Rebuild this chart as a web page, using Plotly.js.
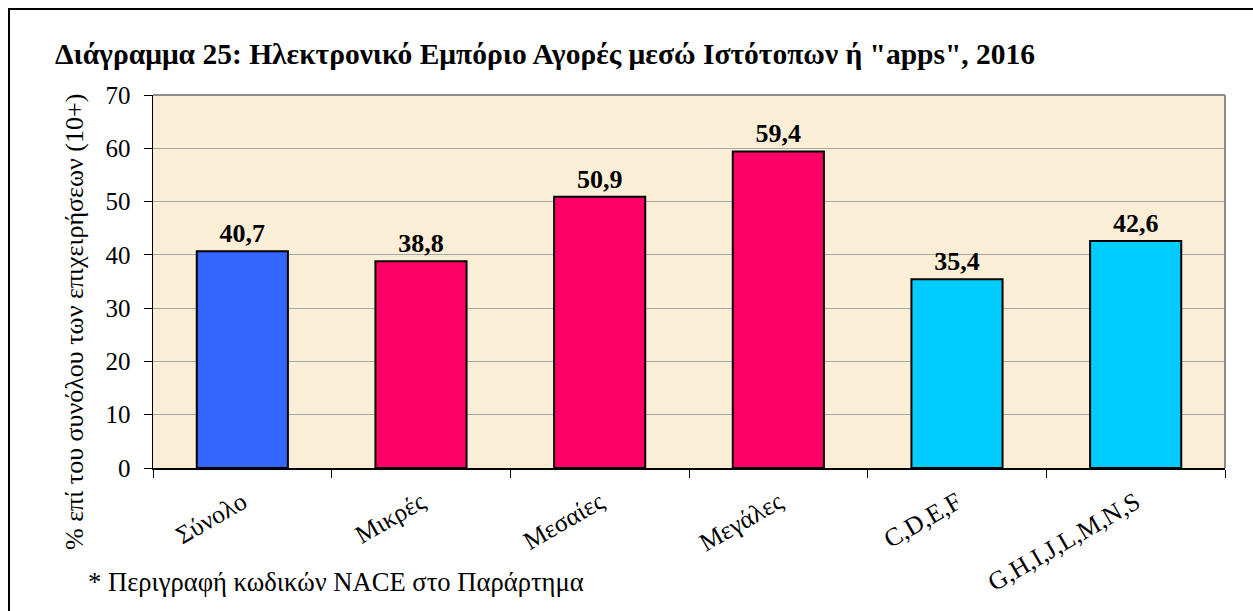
<!DOCTYPE html>
<html>
<head>
<meta charset="utf-8">
<script src="https://cdn.plot.ly/plotly-3.0.1.min.js"></script>
<style>
html,body{margin:0;padding:0;overflow:hidden;background:#fff;}
#wrap{position:relative;width:1253px;height:611px;overflow:hidden;}
#frame{position:absolute;left:8px;top:8px;width:1300px;height:700px;border:2px solid #000;pointer-events:none;}
#chart{position:absolute;left:0;top:0;width:1253px;height:611px;}
</style>
</head>
<body>
<div id="wrap">
<div id="chart"></div>
<div id="frame"></div>
</div>
<script>
const categories = ["Σύνολο", "Μικρές", "Μεσαίες", "Μεγάλες", "C,D,E,F", "G,H,I,J,L,M,N,S"];
const values = [40.7, 38.8, 50.9, 59.4, 35.4, 42.6];
const barColors = ["#3366FF", "#FF0066", "#FF0066", "#FF0066", "#00CCFF", "#00CCFF"];
const yTicks = [0, 10, 20, 30, 40, 50, 60, 70];

const serif = "Liberation Serif, Times New Roman, serif";

const trace = {
  type: "bar",
  x: categories,
  y: values,
  marker: {color: barColors, line: {color: "#000", width: 2}},
  texttemplate: "<b>%{y:.1f}</b>",
  textposition: "outside",
  cliponaxis: false,
  textfont: {family: serif, size: 26, color: "#000"},
  hoverinfo: "none"
};

const layout = {
  width: 1253, height: 611,
  margin: {l: 153, r: 28, t: 95, b: 143},
  paper_bgcolor: "rgba(0,0,0,0)",
  plot_bgcolor: "#FBEED6",
  separators: ",.",
  bargap: 0.49,
  showlegend: false,
  font: {family: serif, color: "#000"},
  title: {
    text: "<b>Διάγραμμα 25: Ηλεκτρονικό Εμπόριο Αγορές μεσώ Ιστότοπων ή \"apps\", 2016</b>",
    font: {family: serif, size: 29.5, color: "#000"},
    xref: "container", yref: "container",
    x: 55/1253, xanchor: "left",
    y: 1 - 54/611, yanchor: "middle"
  },
  xaxis: {
    type: "category",
    tickson: "boundaries",
    ticks: "outside", ticklen: 8, tickcolor: "#000", tickwidth: 1,
    tickangle: -30,
    ticklabelstandoff: 8,
    tickfont: {family: serif, size: 25.5, color: "#000"},
    showline: true, linecolor: "#000", linewidth: 1.5,
    showgrid: false,
    automargin: false,
    fixedrange: true
  },
  yaxis: {
    range: [0, 70],
    tickvals: yTicks,
    ticks: "outside", ticklen: 8, tickcolor: "#000", tickwidth: 1,
    ticklabelstandoff: 8,
    tickfont: {family: serif, size: 25, color: "#000"},
    showline: true, linecolor: "#000", linewidth: 1.5,
    showgrid: true, gridcolor: "#A8A8A8", gridwidth: 1,
    zeroline: false,
    automargin: false,
    fixedrange: true
  },
  shapes: [
    {type: "line", xref: "paper", yref: "paper", x0: 0, x1: 1, y0: 1, y1: 1, line: {color: "#8C8C8C", width: 2}},
    {type: "line", xref: "paper", yref: "paper", x0: 1, x1: 1, y0: 0, y1: 1, line: {color: "#8C8C8C", width: 2}}
  ],
  annotations: [
    {
      text: "% επί του συνόλου των επιχειρήσεων (10+)",
      xref: "paper", yref: "paper",
      x: (74 - 153) / 1072, y: (468 - 322) / 373,
      xanchor: "center", yanchor: "middle",
      textangle: -90, showarrow: false,
      font: {family: serif, size: 26, color: "#000"}
    },
    {
      text: "* Περιγραφή κωδικών NACE στο Παράρτημα",
      xref: "paper", yref: "paper",
      x: (86 - 153) / 1072, y: -(582 - 468) / 373,
      xanchor: "left", yanchor: "middle",
      showarrow: false,
      font: {family: serif, size: 26.6, color: "#000"}
    }
  ]
};

Plotly.newPlot("chart", [trace], layout, {displayModeBar: false, staticPlot: true});
</script>
</body>
</html>
